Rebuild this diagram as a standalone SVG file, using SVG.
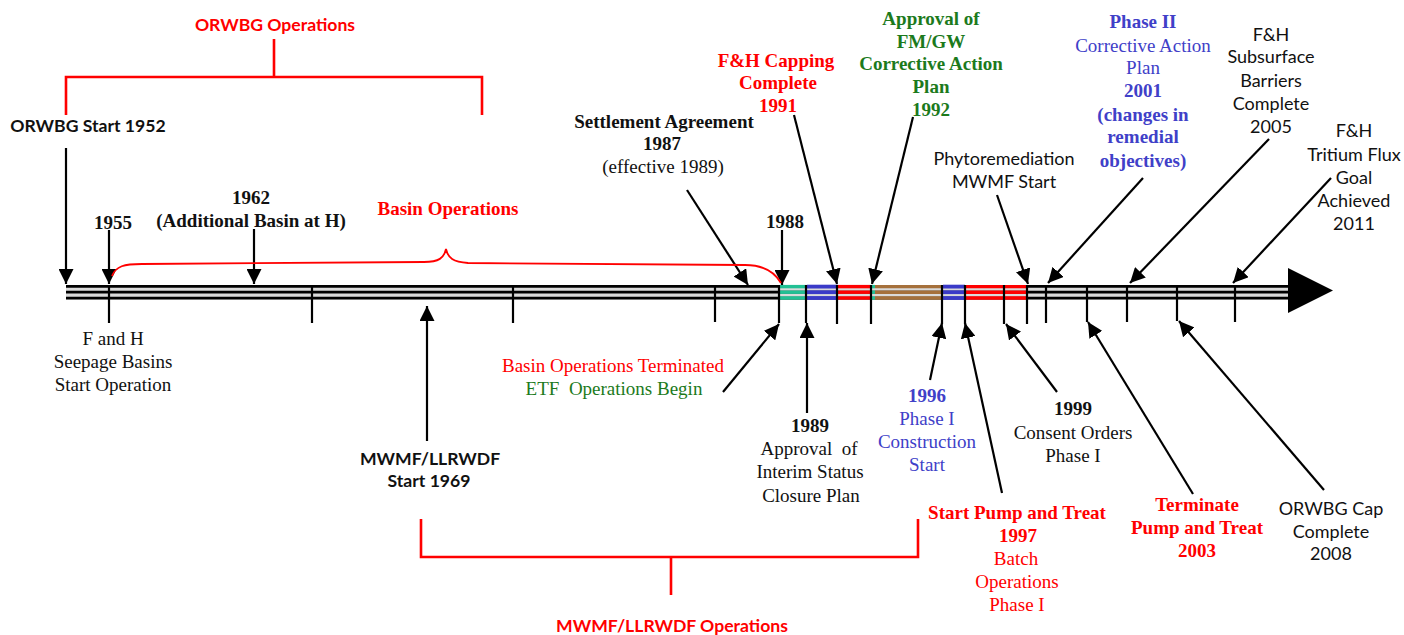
<svg xmlns="http://www.w3.org/2000/svg" width="1404" height="635" viewBox="0 0 1404 635">
<style>
.s{font-family:"Liberation Serif","Times New Roman",serif;font-size:19px;text-anchor:middle}
.sb{font-family:"Liberation Serif","Times New Roman",serif;font-size:19px;font-weight:bold;text-anchor:middle}
.c{font-family:Lato,"Liberation Sans",sans-serif;font-size:18px;text-anchor:middle}
.cb{font-family:Lato,"Liberation Sans",sans-serif;font-size:17.6px;font-weight:bold;text-anchor:middle}
.k{fill:#111}
.r{fill:#ff0000}
.g{fill:#1c7a1c}
.b{fill:#4040c8}
.ar{stroke:#000;stroke-width:2.2;fill:none;marker-end:url(#ah)}
.tick{stroke:#000;stroke-width:2.2}
.br{stroke:#ff0000;stroke-width:2.6;fill:none}
</style>
<defs>
<marker id="ah" viewBox="0 0 10 10" refX="10" refY="5" markerWidth="15" markerHeight="15" markerUnits="userSpaceOnUse" orient="auto">
<path d="M0,0 L10,5 L0,10 z" fill="#000"/>
</marker>
</defs>
<rect width="1404" height="635" fill="#fff"/>

<g id="timeline">
<rect x="66" y="285" width="1224" height="14.5" fill="#dadada"/>
<g stroke="#000" stroke-width="2.7">
<line x1="66" y1="286.4" x2="1290" y2="286.4"/>
<line x1="66" y1="292.2" x2="1290" y2="292.2"/>
<line x1="66" y1="298.2" x2="1290" y2="298.2"/>
</g>
<g stroke-width="3.4">
<g stroke="#22c094"><line x1="780" y1="286.6" x2="807" y2="286.6"/><line x1="780" y1="292.2" x2="807" y2="292.2"/><line x1="780" y1="298" x2="807" y2="298"/></g>
<g stroke="#3a3ac8" stroke-width="3.8"><line x1="807" y1="286.6" x2="838" y2="286.6"/><line x1="807" y1="292.2" x2="838" y2="292.2"/><line x1="807" y1="298" x2="838" y2="298"/></g>
<g stroke="#ff0000"><line x1="838" y1="286.6" x2="870" y2="286.6"/><line x1="838" y1="292.2" x2="870" y2="292.2"/><line x1="838" y1="298" x2="870" y2="298"/></g>
<g stroke="#22c094"><line x1="870" y1="286.6" x2="875" y2="286.6"/><line x1="870" y1="292.2" x2="875" y2="292.2"/><line x1="870" y1="298" x2="875" y2="298"/></g>
<g stroke="#a5703b"><line x1="875" y1="286.6" x2="943" y2="286.6"/><line x1="875" y1="292.2" x2="943" y2="292.2"/><line x1="875" y1="298" x2="943" y2="298"/></g>
<g stroke="#3a3ac8" stroke-width="3.8"><line x1="943" y1="286.6" x2="965" y2="286.6"/><line x1="943" y1="292.2" x2="965" y2="292.2"/><line x1="943" y1="298" x2="965" y2="298"/></g>
<g stroke="#ff0000"><line x1="965" y1="286.6" x2="1027" y2="286.6"/><line x1="965" y1="292.2" x2="1027" y2="292.2"/><line x1="965" y1="298" x2="1027" y2="298"/></g>
</g>
<path d="M1288,268 L1333,290.5 L1288,313 z" fill="#000"/>
<g class="tick">
<line x1="109" y1="285" x2="109" y2="323"/>
<line x1="312" y1="285" x2="312" y2="323"/>
<line x1="513" y1="285" x2="513" y2="323"/>
<line x1="715" y1="285" x2="715" y2="322"/>
<line x1="779" y1="285" x2="779" y2="323"/>
<line x1="806" y1="285" x2="806" y2="323"/>
<line x1="837" y1="285" x2="837" y2="324"/>
<line x1="871" y1="285" x2="871" y2="324"/>
<line x1="942" y1="285" x2="942" y2="324"/>
<line x1="965" y1="285" x2="965" y2="324"/>
<line x1="1004" y1="285" x2="1004" y2="324"/>
<line x1="1027" y1="285" x2="1027" y2="324"/>
<line x1="1046" y1="285" x2="1046" y2="323"/>
<line x1="1087" y1="285" x2="1087" y2="322"/>
<line x1="1127" y1="285" x2="1127" y2="322"/>
<line x1="1177" y1="285" x2="1177" y2="321"/>
<line x1="1235" y1="285" x2="1235" y2="322"/>
</g>
</g>

<g id="connectors">
<line class="ar" x1="66" y1="148" x2="66" y2="284"/>
<line class="ar" x1="109" y1="230" x2="109" y2="284"/>
<line class="ar" x1="254" y1="229" x2="254" y2="284"/>
<line class="ar" x1="687" y1="190" x2="748" y2="285"/>
<line class="ar" x1="782" y1="230" x2="782" y2="285"/>
<line class="ar" x1="794" y1="115" x2="837" y2="284"/>
<line class="ar" x1="913" y1="117" x2="872" y2="284"/>
<line class="ar" x1="997" y1="195" x2="1028" y2="284"/>
<line class="ar" x1="1143" y1="178" x2="1048" y2="283"/>
<line class="ar" x1="1269" y1="139" x2="1130" y2="283"/>
<line class="ar" x1="1331" y1="178" x2="1233" y2="283"/>
<line class="ar" x1="427" y1="441" x2="427" y2="306"/>
<line class="ar" x1="723" y1="392" x2="779" y2="324"/>
<line class="ar" x1="807" y1="413" x2="807" y2="323"/>
<line class="ar" x1="930" y1="380" x2="942" y2="323"/>
<line class="ar" x1="1002" y1="493" x2="965" y2="323"/>
<line class="ar" x1="1057" y1="392" x2="1006" y2="324"/>
<line class="ar" x1="1193" y1="494" x2="1088" y2="322"/>
<line class="ar" x1="1324" y1="490" x2="1179" y2="321"/>
<path class="br" d="M66,115 V77 H482 V115 M274,77 V39"/>
<path class="br" d="M421,519 V557 H918 V519 M671,557 V595"/>
<path d="M112,276 C116,266 124,264 142,264 L424,262 C439,262 444,258 446,249 C448,258 453,262 468,263 L745,265 C763,265 774,271 781,283" stroke="#ff0000" stroke-width="1.8" fill="none"/>
</g>

<g id="orwbg-ops"><text class="cb r" x="275" y="31">ORWBG Operations</text></g>
<g id="orwbg-start"><text class="cb k" x="88" y="132">ORWBG Start 1952</text></g>
<g id="n1955"><text class="sb k" x="113" y="229">1955</text></g>
<g id="n1962"><text class="sb k" x="251" y="204">1962</text><text class="sb k" x="251" y="227">(Additional Basin at H)</text></g>
<g id="basin-ops"><text class="sb r" x="448" y="215">Basin Operations</text></g>
<g id="n1987"><text class="sb k" x="664" y="128">Settlement Agreement</text><text class="sb k" x="662" y="150">1987</text><text class="s k" x="663" y="173">(effective 1989)</text></g>
<g id="n1988"><text class="sb k" x="785" y="228">1988</text></g>
<g id="n1991"><text class="sb r" x="776" y="67">F&amp;H Capping</text><text class="sb r" x="778" y="89">Complete</text><text class="sb r" x="778" y="112">1991</text></g>
<g id="n1992"><text class="sb g" x="931" y="25">Approval of</text><text class="sb g" x="931" y="48">FM/GW</text><text class="sb g" x="931" y="70">Corrective Action</text><text class="sb g" x="931" y="93">Plan</text><text class="sb g" x="931" y="116">1992</text></g>
<g id="phyto"><text class="c k" x="1004" y="165">Phytoremediation</text><text class="c k" x="1004" y="188">MWMF Start</text></g>
<g id="n2001"><text class="sb b" x="1143" y="28">Phase II</text><text class="s b" x="1143" y="52">Corrective Action</text><text class="s b" x="1143" y="74">Plan</text><text class="sb b" x="1143" y="97">2001</text><text class="sb b" x="1143" y="121">(changes in</text><text class="sb b" x="1143" y="143">remedial</text><text class="sb b" x="1143" y="167">objectives)</text></g>
<g id="n2005"><text class="c k" x="1271" y="41">F&amp;H</text><text class="c k" x="1271" y="63">Subsurface</text><text class="c k" x="1271" y="87">Barriers</text><text class="c k" x="1271" y="110">Complete</text><text class="c k" x="1271" y="133">2005</text></g>
<g id="n2011"><text class="c k" x="1354" y="137">F&amp;H</text><text class="c k" x="1354" y="161">Tritium Flux</text><text class="c k" x="1354" y="184">Goal</text><text class="c k" x="1354" y="207">Achieved</text><text class="c k" x="1354" y="230">2011</text></g>

<g id="seepage"><text class="s k" x="113" y="345">F and H</text><text class="s k" x="113" y="368">Seepage Basins</text><text class="s k" x="113" y="391">Start Operation</text></g>
<g id="n1969"><text class="cb k" x="430" y="465">MWMF/LLRWDF</text><text class="cb k" x="429" y="487">Start 1969</text></g>
<g id="terminated"><text class="s r" x="613" y="372">Basin Operations Terminated</text><text class="s g" x="614" y="395" xml:space="preserve">ETF  Operations Begin</text></g>
<g id="n1989"><text class="sb k" x="810" y="432">1989</text><text class="s k" x="809" y="455" xml:space="preserve">Approval  of</text><text class="s k" x="810" y="478">Interim Status</text><text class="s k" x="811" y="502">Closure Plan</text></g>
<g id="n1996"><text class="sb b" x="927" y="402">1996</text><text class="s b" x="927" y="425">Phase I</text><text class="s b" x="927" y="448">Construction</text><text class="s b" x="927" y="471">Start</text></g>
<g id="n1999"><text class="sb k" x="1073" y="415">1999</text><text class="s k" x="1073" y="439">Consent Orders</text><text class="s k" x="1073" y="462">Phase I</text></g>
<g id="n1997"><text class="sb r" x="1017" y="519">Start Pump and Treat</text><text class="sb r" x="1018" y="542">1997</text><text class="s r" x="1016" y="565">Batch</text><text class="s r" x="1017" y="588">Operations</text><text class="s r" x="1017" y="611">Phase I</text></g>
<g id="n2003"><text class="sb r" x="1197" y="511">Terminate</text><text class="sb r" x="1197" y="534">Pump and Treat</text><text class="sb r" x="1197" y="557">2003</text></g>
<g id="n2008"><text class="c k" x="1331" y="515">ORWBG Cap</text><text class="c k" x="1331" y="538">Complete</text><text class="c k" x="1331" y="560">2008</text></g>
<g id="mwmf-ops"><text class="cb r" x="672" y="632">MWMF/LLRWDF Operations</text></g>
</svg>
